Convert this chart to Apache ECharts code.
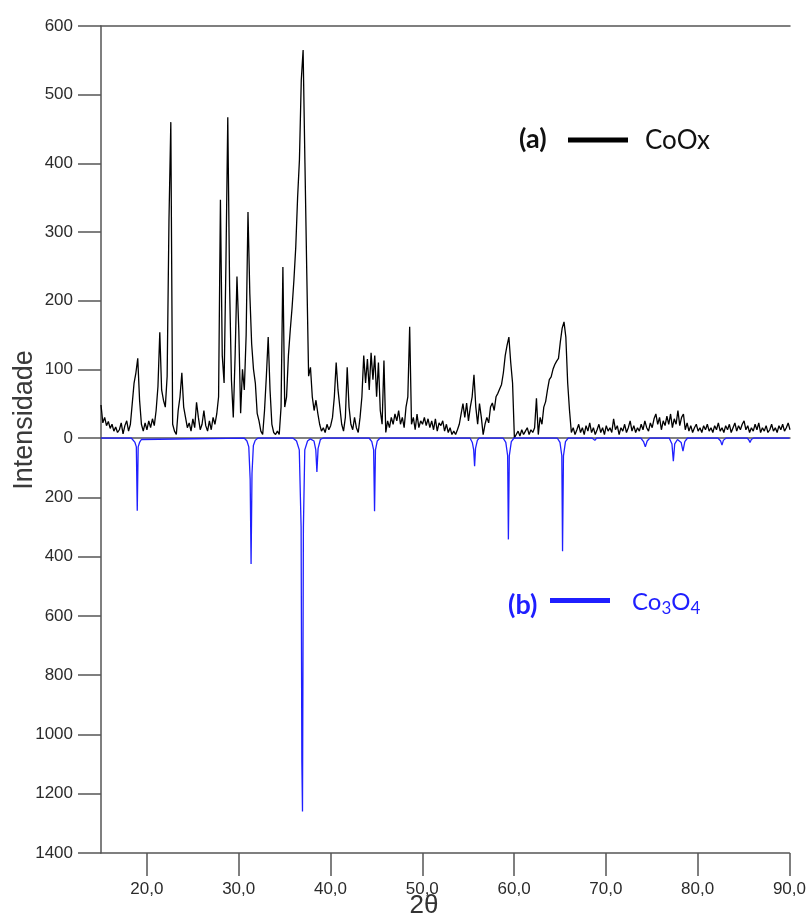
<!DOCTYPE html>
<html lang="pt">
  <head>
    <meta charset="UTF-8" />
    <title>DRX CoOx / Co3O4</title>
    <script src="https://cdn.jsdelivr.net/npm/echarts@6/dist/echarts.min.js"></script>
    <style>
      html, body { margin: 0; padding: 0; background: #fff; }
    </style>
  </head>
  <body>
    <div id="main" style="width: 809px;height:919px;"></div>
    <script type="text/javascript">
      // CoOx (a): intensidade lida a cada 0,2 graus desde 15,0
      var cooxStart = 15.0;
      var cooxStep = 0.2;
      var cooxCounts = [
        48, 22, 30, 18, 24, 14, 20, 10, 16, 8,        // 15.0
        12, 22, 6, 18, 25, 10, 20, 50, 80, 95,        // 17.0
        116, 55, 20, 10, 22, 12, 25, 15, 28, 18,      // 19.0
        40, 75, 154, 70, 55, 45, 90, 318, 460, 20,    // 21.0
        10, 5, 40, 60, 95, 45, 30, 15, 22, 10,        // 23.0
        28, 15, 52, 30, 12, 20, 40, 18, 10, 25,       // 25.0
        12, 30, 20, 35, 60, 347, 120, 80, 255, 467,   // 27.0
        220, 84, 30, 120, 235, 157, 36, 100, 70, 150, // 29.0
        329, 210, 137, 100, 80, 36, 25, 10, 5, 40,    // 31.0
        90, 147, 70, 20, 8, 5, 10, 5, 45, 249,        // 33.0
        45, 60, 120, 157, 190, 230, 278, 350, 405, 521, // 35.0
        565, 400, 240, 90, 103, 60, 40, 55, 36, 20,   // 37.0
        10, 15, 8, 20, 12, 18, 30, 60, 110, 70,       // 39.0
        45, 20, 10, 30, 103, 45, 20, 12, 30, 15,      // 41.0
        8, 30, 60, 120, 80, 115, 70, 124, 85, 120,    // 43.0
        60, 110, 40, 20, 113, 8, 25, 15, 30, 20,      // 45.0
        35, 25, 40, 20, 30, 15, 45, 60, 162, 20,      // 47.0
        30, 12, 35, 15, 25, 20, 30, 18, 28, 15,       // 49.0
        25, 12, 28, 10, 22, 18, 25, 10, 20, 8,        // 51.0
        15, 5, 10, 5, 12, 20, 35, 50, 30, 51,         // 53.0
        25, 45, 60, 92, 45, 20, 50, 30, 5, 20,        // 55.0
        30, 22, 45, 51, 40, 60, 65, 63, 78, 95,       // 57.0
        120, 135, 147, 110, 80, 0, 5, 10, 3, 12,      // 59.0
        5, 10, 15, 5, 12, 8, 15, 58, 5, 30,           // 61.0
        20, 45, 53, 70, 85, 89, 100, 107, 112, 116,   // 63.0
        140, 160, 169, 147, 80, 40, 8, 15, 5, 12,     // 65.0
        20, 8, 15, 5, 18, 10, 22, 8, 15, 5,           // 67.0
        12, 20, 8, 15, 5, 18, 10, 15, 8, 28,          // 69.0
        12, 18, 5, 15, 10, 20, 8, 15, 25, 10,         // 71.0
        18, 8, 15, 10, 20, 12, 25, 15, 10, 22,        // 73.0
        15, 28, 35, 20, 30, 12, 25, 18, 32, 20,       // 75.0
        35, 15, 28, 20, 40, 18, 30, 35, 12, 22,       // 77.0
        10, 18, 8, 15, 20, 10, 15, 8, 18, 12,         // 79.0
        20, 10, 15, 8, 18, 12, 22, 10, 15, 8,         // 81.0
        18, 12, 20, 8, 15, 22, 10, 18, 12, 20,        // 83.0
        25, 12, 18, 8, 15, 10, 20, 12, 22, 8,         // 85.0
        15, 10, 18, 8, 12, 20, 10, 15, 8, 18,         // 87.0
        12, 20, 10, 15, 22, 12                        // 89.0
      ];

      // Co3O4 (b): padrao de referencia, [2theta, intensidade]
      var co3o4Points = [
        [15, 0], [18.3, 0], [18.5, 5], [18.7, 15], [18.85, 30], [18.95, 245], [19.05, 30], [19.2, 15], [19.4, 5], [19.6, 0],
        [30.6, 0], [30.9, 10], [31.1, 30], [31.25, 140], [31.35, 425], [31.45, 120], [31.6, 25], [31.8, 8], [32.1, 0],
        [35.9, 0], [36.3, 10], [36.6, 40], [36.8, 300], [36.88, 1090], [36.95, 1260], [37.05, 300], [37.2, 40], [37.5, 10],
        [37.8, 3], [38.2, 10], [38.4, 40], [38.52, 115], [38.65, 35], [38.9, 5], [39.2, 0],
        [44.2, 0], [44.5, 12], [44.7, 40], [44.8, 247], [44.9, 40], [45.1, 10], [45.4, 0],
        [55.2, 0], [55.45, 15], [55.6, 40], [55.7, 95], [55.8, 35], [56.0, 8], [56.2, 0],
        [58.8, 0], [59.1, 15], [59.3, 60], [59.38, 342], [59.48, 60], [59.7, 12], [60.0, 0],
        [64.7, 0], [65.0, 15], [65.2, 60], [65.28, 382], [65.38, 60], [65.6, 12], [65.9, 0],
        [68.5, 0], [68.8, 8], [69.0, 0], [73.8, 0], [74.1, 12], [74.3, 30], [74.5, 10], [74.8, 0],
        [76.9, 0], [77.2, 20], [77.35, 78], [77.5, 20], [77.8, 5], [78.2, 15], [78.4, 44], [78.6, 12], [78.9, 0],
        [82.2, 0], [82.5, 10], [82.65, 24], [82.8, 8], [83.1, 0],
        [85.4, 0], [85.6, 8], [85.7, 15], [85.85, 5], [86.1, 0], [90, 0]
      ];

      var thetaTicks = [20, 30, 40, 50, 60, 70, 80, 90];

      var cooxData = cooxCounts.map(function(v, i) {
        return [+(cooxStart + i * cooxStep).toFixed(1), v];
      });

      var axisColor = "#555";
      var labelStyle = { color: "#2b2b2b", fontSize: 17, fontFamily: "Liberation Sans" };
      var blue = "#1f1fff";

      var myChart = echarts.init(document.getElementById("main"));
      myChart.setOption({
        animation: false,
        backgroundColor: "#fff",
        textStyle: { fontFamily: "Liberation Sans" },
        grid: [
          { left: 101, right: 19, top: 26, height: 412 },
          { left: 101, right: 19, top: 438, height: 415 }
        ],
        xAxis: [
          {
            gridIndex: 0, type: "value", min: 15, max: 90, position: "bottom",
            axisLine: { onZero: false, lineStyle: { color: axisColor, width: 1.5 } },
            axisTick: { show: false }, axisLabel: { show: false }, splitLine: { show: false }
          },
          {
            gridIndex: 0, type: "value", min: 15, max: 90, position: "top",
            axisLine: { onZero: false, lineStyle: { color: axisColor, width: 1.5 } },
            axisTick: { show: false }, axisLabel: { show: false }, splitLine: { show: false }
          },
          {
            gridIndex: 1, type: "value", min: 15, max: 90, position: "bottom",
            axisLine: { onZero: false, lineStyle: { color: axisColor, width: 1.5 } },
            axisTick: { customValues: thetaTicks, length: 23, lineStyle: { color: axisColor, width: 1.5 } },
            axisLabel: Object.assign({
              customValues: thetaTicks, margin: 28,
              formatter: function(v) { return v.toFixed(1).replace(".", ","); }
            }, labelStyle),
            splitLine: { show: false }
          }
        ],
        yAxis: [
          {
            gridIndex: 0, type: "value", min: 0, max: 600, interval: 100,
            axisLine: { show: true, lineStyle: { color: axisColor, width: 1.5 } },
            axisTick: { show: true, length: 23, lineStyle: { color: axisColor, width: 1.5 } },
            axisLabel: Object.assign({ margin: 28 }, labelStyle),
            splitLine: { show: false }
          },
          {
            gridIndex: 1, type: "value", min: 0, max: 1400, interval: 200, inverse: true,
            axisLine: { show: true, lineStyle: { color: axisColor, width: 1.5 } },
            axisTick: { show: true, length: 23, lineStyle: { color: axisColor, width: 1.5 } },
            axisLabel: Object.assign({
              margin: 28,
              formatter: function(v) { return v === 0 ? "" : String(v); }
            }, labelStyle),
            splitLine: { show: false }
          }
        ],
        series: [
          {
            name: "CoOx", type: "line", xAxisIndex: 0, yAxisIndex: 0,
            data: cooxData, symbol: "none", clip: true,
            lineStyle: { color: "#000", width: 1.3 }
          },
          {
            name: "Co3O4", type: "line", xAxisIndex: 2, yAxisIndex: 1,
            data: co3o4Points, symbol: "none", clip: true,
            lineStyle: { color: blue, width: 1.3 }
          }
        ],
        graphic: [
          {
            type: "text", x: 25, y: 420, rotation: Math.PI / 2,
            style: { text: "Intensidade", fill: "#3a3a3a", fontSize: 27, fontFamily: "Liberation Sans", align: "center", verticalAlign: "middle" }
          },
          {
            type: "text", x: 424, y: 906,
            style: { text: "2θ", fill: "#333", fontSize: 26, fontFamily: "Liberation Sans", align: "center", verticalAlign: "middle" }
          },
          {
            type: "text", x: 519, y: 139,
            style: { text: "(a)", fill: "#111", fontSize: 27, fontWeight: "bold", fontFamily: "Lato", verticalAlign: "middle" }
          },
          { type: "rect", shape: { x: 568, y: 137.5, width: 60, height: 5 }, style: { fill: "#000" } },
          {
            type: "text", x: 645, y: 141,
            style: { text: "CoOx", fill: "#111", fontSize: 26, fontFamily: "Lato", verticalAlign: "middle" }
          },
          {
            type: "text", x: 508, y: 605,
            style: { text: "(b)", fill: blue, fontSize: 27, fontWeight: "bold", fontFamily: "Lato", verticalAlign: "middle" }
          },
          { type: "rect", shape: { x: 550, y: 598, width: 60, height: 5 }, style: { fill: blue } },
          {
            type: "text", x: 632, y: 602,
            style: {
              text: "{n|Co}{s|3}{n|O}{s|4}",
              verticalAlign: "middle",
              rich: {
                n: { fill: blue, fontSize: 24, fontFamily: "Lato", verticalAlign: "bottom" },
                s: { fill: blue, fontSize: 17, fontFamily: "Lato", verticalAlign: "bottom", padding: [0, 0, -3, 0] }
              }
            }
          }
        ]
      });
    </script>
  </body>
</html>
